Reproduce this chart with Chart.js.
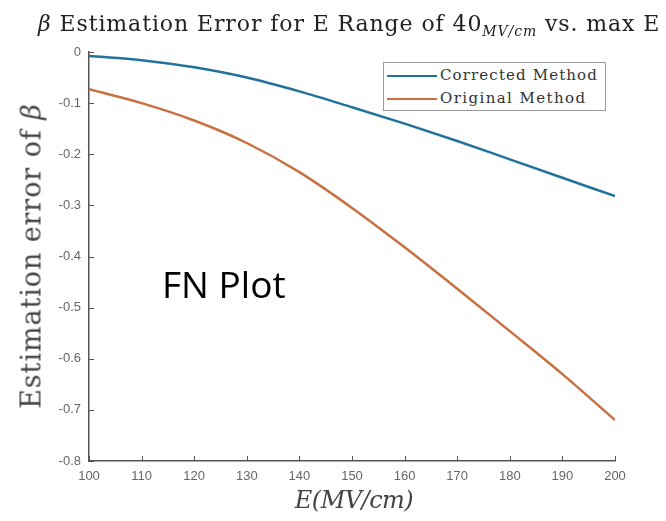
<!DOCTYPE html>
<html>
<head>
<meta charset="utf-8">
<script src="https://cdn.jsdelivr.net/npm/chart.js@4"></script>
<style>
  body { margin: 0; background: #fff; }
  #wrap { position: relative; width: 666px; height: 521px; }
  .serif { font-family: "DejaVu Serif", "Liberation Serif", serif; color: #222; white-space: nowrap; position: absolute; }
  #title { left: 38px; top: 11px; font-size: 22px; }
  #title sub { font-size: 14px; font-style: italic; }
  #ytitle { left: 31px; top: 256px; font-size: 27px; line-height: 1; transform: translate(-50%, -50%) rotate(-90deg); color: #444; }
  #xtitle { left: 354px; top: 500px; font-size: 24px; line-height: 1; font-style: italic; transform: translate(-50%, -50%); color: #444; }
  #legend {
    position: absolute; left: 383px; top: 62px; width: 221px; height: 47px;
    border: 1px solid #999; background: #fff;
    font-family: "DejaVu Serif", "Liberation Serif", serif; font-size: 15px; color: #333;
  }
  .row { position: absolute; left: 3px; height: 22px; line-height: 22px; white-space: nowrap; }
  .swatch { display: inline-block; width: 50px; height: 0; border-top: 2px solid; vertical-align: middle; margin-right: 3px; }
  #fn {
    position: absolute; left: 162px; top: 258px; white-space: nowrap;
    font-family: "Open Sans", "Liberation Sans", sans-serif; font-size: 37px; color: #000;
  }
</style>
</head>
<body>
<div id="wrap">
  <canvas id="myChart" width="666" height="521"></canvas>
  <div id="title" class="serif"><i>&beta;</i> Estimation Error for E Range of 40<sub>MV/cm</sub> vs. max E</div>
  <div id="ytitle" class="serif">Estimation error of <i>&beta;</i></div>
  <div id="xtitle" class="serif">E(MV/cm)</div>
  <div id="legend"></div>
  <div id="fn">FN Plot</div>
</div>
<script>
// E field (MV/cm) on the x axis
const eField = [100, 110, 120, 130, 140, 150, 160, 170, 180, 190, 200];
// estimation error of beta
const correctedErr = [-0.008, -0.016, -0.030, -0.050, -0.077, -0.108, -0.140, -0.174, -0.210, -0.246, -0.282];
const originalErr = [-0.073, -0.100, -0.134, -0.178, -0.235, -0.305, -0.382, -0.463, -0.546, -0.630, -0.720];

const seriesNames = ["Corrected Method", "Original Method"];
const seriesColors = ["#22739b", "#c8703f"];

const xTicks = [100, 110, 120, 130, 140, 150, 160, 170, 180, 190, 200];
const yTicks = [0, -0.1, -0.2, -0.3, -0.4, -0.5, -0.6, -0.7, -0.8];
const yTickLabels = ["0", "-0.1", "-0.2", "-0.3", "-0.4", "-0.5", "-0.6", "-0.7", "-0.8"];

// legend box (html so it can sit inside the plot like matlab does)
const legendEl = document.getElementById("legend");
seriesNames.forEach((name, i) => {
  const row = document.createElement("div");
  row.className = "row";
  row.style.top = (1 + i * 23) + "px";
  row.innerHTML = '<span class="swatch" style="border-color:' + seriesColors[i] + '"></span><span class="lbl">' + name + '</span>';
  legendEl.appendChild(row);
});

// nudge letter spacing so the texts span the same widths as in the picture
function fitWidth(el, target) {
  const w = el.offsetWidth;
  const n = el.textContent.length;
  el.style.letterSpacing = ((target - w) / n) + "px";
}
fitWidth(document.getElementById("title"), 622);
fitWidth(document.getElementById("ytitle"), 305);
fitWidth(document.getElementById("xtitle"), 118);
document.querySelectorAll(".lbl").forEach((el, i) => fitWidth(el, i === 0 ? 158 : 146));

// matlab style ticks pointing into the plot area
const innerTicks = {
  id: "innerTicks",
  afterDraw(chart) {
    const { ctx, chartArea, scales } = chart;
    ctx.save();
    ctx.strokeStyle = "#555";
    ctx.lineWidth = 1;
    ctx.beginPath();
    xTicks.forEach(v => {
      const px = Math.round(scales.x.getPixelForValue(v)) + 0.5;
      ctx.moveTo(px, chartArea.bottom);
      ctx.lineTo(px, chartArea.bottom - 5);
    });
    yTicks.forEach(v => {
      const py = Math.round(scales.y.getPixelForValue(v)) + 0.5;
      ctx.moveTo(chartArea.left, py);
      ctx.lineTo(chartArea.left + 5, py);
    });
    ctx.stroke();
    ctx.restore();
  }
};

const tickFont = { family: "Liberation Sans, Arial, sans-serif", size: 13 };

new Chart(document.getElementById("myChart"), {
  type: "line",
  data: {
    datasets: [correctedErr, originalErr].map((vals, i) => ({
      label: seriesNames[i],
      data: eField.map((x, j) => ({ x: x, y: vals[j] })),
      borderColor: seriesColors[i],
      borderWidth: 2.5,
      pointRadius: 0,
      fill: false,
      cubicInterpolationMode: "monotone"
    }))
  },
  options: {
    responsive: false,
    animation: false,
    devicePixelRatio: 1,
    layout: { padding: { left: 0, top: 52, right: 51, bottom: 0 } },
    plugins: { legend: { display: false }, tooltip: { enabled: false } },
    scales: {
      x: {
        type: "linear",
        min: 100,
        max: 200,
        afterFit: s => { s.height = 60; },
        afterBuildTicks: s => { s.ticks = xTicks.map(v => ({ value: v })); },
        ticks: { color: "#666", font: tickFont, padding: 8, maxRotation: 0 },
        grid: { drawOnChartArea: false, drawTicks: false },
        border: { color: "#555", width: 1.5 }
      },
      y: {
        type: "linear",
        min: -0.8,
        max: 0,
        afterFit: s => { s.width = 89; },
        afterBuildTicks: s => { s.ticks = yTicks.slice().reverse().map(v => ({ value: v })); },
        ticks: {
          color: "#666",
          font: tickFont,
          padding: 8,
          callback: v => yTickLabels[yTicks.findIndex(t => Math.abs(t - v) < 1e-6)]
        },
        grid: { drawOnChartArea: false, drawTicks: false },
        border: { color: "#555", width: 1.5 }
      }
    }
  },
  plugins: [innerTicks]
});
</script>
</body>
</html>
